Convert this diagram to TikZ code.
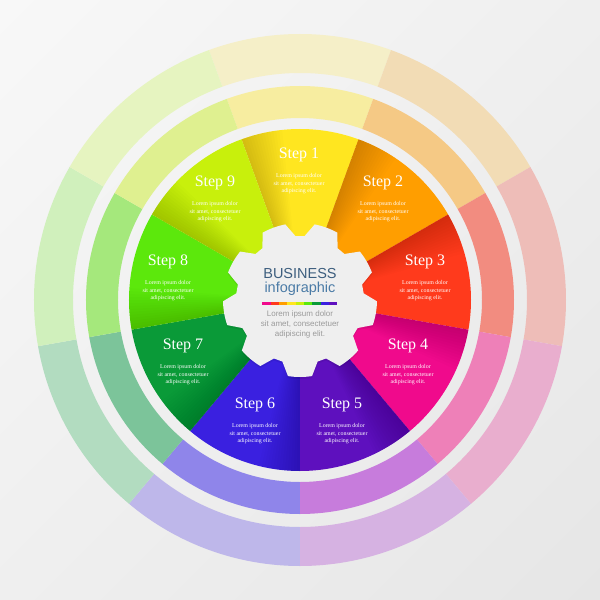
\documentclass[tikz,border=0pt]{standalone}
\usepackage{fontspec}
\usetikzlibrary{shadings}
\setmainfont{Liberation Serif}
\newfontfamily\sansf{Liberation Sans}
\definecolor{bgA}{HTML}{F8F8F8}
\definecolor{bgB}{HTML}{EFEFEF}
\definecolor{bgC}{HTML}{E6E6E6}
\definecolor{gearc}{HTML}{EFEFEF}
\definecolor{i1}{HTML}{FFE620}
\definecolor{i2}{HTML}{FF9E00}
\definecolor{i3}{HTML}{FF3A1C}
\definecolor{i4}{HTML}{F00A8C}
\definecolor{i5}{HTML}{5E10BE}
\definecolor{i6}{HTML}{3A20E0}
\definecolor{i7}{HTML}{0A9A38}
\definecolor{i8}{HTML}{5CE80C}
\definecolor{i9}{HTML}{C8F00C}
\definecolor{m1}{HTML}{F7EDA0}
\definecolor{m2}{HTML}{F5C985}
\definecolor{m3}{HTML}{F28C80}
\definecolor{m4}{HTML}{EE80B8}
\definecolor{m5}{HTML}{C77CDC}
\definecolor{m6}{HTML}{8F85EA}
\definecolor{m7}{HTML}{7CC49A}
\definecolor{m8}{HTML}{A5E87C}
\definecolor{m9}{HTML}{DFF090}
\definecolor{o1}{HTML}{F5EFC8}
\definecolor{o2}{HTML}{F2DCB5}
\definecolor{o3}{HTML}{EEBDB8}
\definecolor{o4}{HTML}{E9AECE}
\definecolor{o5}{HTML}{D6B2E2}
\definecolor{o6}{HTML}{BEB7EA}
\definecolor{o7}{HTML}{B2DCC0}
\definecolor{o8}{HTML}{D0F0BC}
\definecolor{o9}{HTML}{E6F4C0}
\definecolor{bizblue}{HTML}{3D5E7E}
\definecolor{infoblue}{HTML}{4B7BA6}
\definecolor{grayt}{HTML}{9A9A9A}
\newcommand{\gearpath}{(79:77pt) \foreach \k in {0,...,8} {
   -- ({90+40*\k-4}:64pt) -- ({90+40*\k+4}:64pt) -- ({90+40*\k+11}:77pt)
   arc[start angle={90+40*\k+11}, end angle={90+40*\k+29}, radius=77pt]
} -- cycle}
\begin{document}
\begin{tikzpicture}[x=1pt,y=1pt,
  steplbl/.style={text=white, inner sep=0pt, font=\fontsize{16}{16}\selectfont},
  loremsm/.style={text=white, align=center, inner sep=0pt, font=\fontsize{5.9}{7.5}\selectfont},
  bigtitle/.style={inner sep=0pt, font=\sansf\fontsize{14.5}{15}\selectfont},
  graytext/.style={text=grayt, align=center, inner sep=0pt, font=\sansf\fontsize{8}{10}\selectfont}]
\useasboundingbox (-300,-300) rectangle (300,300);
\shade[upper left=bgA, upper right=bgB, lower left=bgB, lower right=bgC] (-300,-300) rectangle (300,300);
% segments
\foreach \k/\ci/\cm/\co in {1/i1/m1/o1, 2/i2/m2/o2, 3/i3/m3/o3, 4/i4/m4/o4, 5/i5/m5/o5, 6/i6/m6/o6, 7/i7/m7/o7, 8/i8/m8/o8, 9/i9/m9/o9} {
  \pgfmathsetmacro\a{90-40*(\k-1)-20}
  \pgfmathsetmacro\b{\a+40}
  \fill[\co] (\a:227pt) arc[start angle=\a, end angle=\b, radius=227pt] -- (\b:266pt) arc[start angle=\b, end angle=\a, radius=266pt] -- cycle;
  \fill[\cm] (\a:182pt) arc[start angle=\a, end angle=\b, radius=182pt] -- (\b:214pt) arc[start angle=\b, end angle=\a, radius=214pt] -- cycle;
  \fill[\ci] (0,0) -- (\a:171pt) arc[start angle=\a, end angle=\b, radius=171pt] -- cycle;
  \foreach \j in {1,...,14} {
    \fill[black, opacity=0.011] (0,0) -- (\b:171pt) arc[start angle=\b, end angle={\b-1*\j}, radius=171pt] -- cycle;
  }
}
% gear
\begin{scope}[yshift=-2pt]
\fill[black, opacity=0.07] \gearpath;
\end{scope}
\fill[gearc] \gearpath;
% center texts
\node[bigtitle, text=bizblue, anchor=base] (biz) at (0,22) {BUSINESS};
\node[bigtitle, text=infoblue, anchor=base] (info) at (0,7.3) {infographic};
\foreach \c [count=\n from 0] in {i4,i3,i2,i1,i9,i8,i7,i6,i5} {
  \fill[\c] ({-37.5+8.33*\n},-1.5) rectangle ({-37.5+8.33*(\n+1)},-4.5);
}
\node[graytext] (glorem) at (0,-24) {Lorem ipsum dolor\\sit amet, consectetuer\\adipiscing elit.};
% step labels
\foreach \k/\x/\y in {1/-1/145, 2/83/117, 3/125/38, 4/108/-46, 5/42/-105, 6/-45/-105, 7/-117/-46, 8/-132/38, 9/-85/117} {
  \node[steplbl] (s\k) at (\x,\y) {Step \k};
  \node[loremsm] (l\k) at (\x,\y-29) {Lorem ipsum dolor\\sit amet, consectetuer\\adipiscing elit.};
}
\end{tikzpicture}
\end{document}
